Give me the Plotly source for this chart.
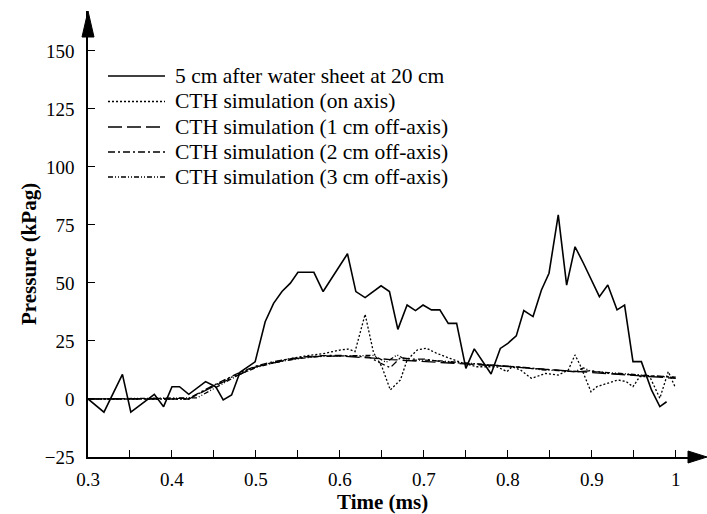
import plotly.graph_objects as go

# ---------------- data ----------------
t_meas = [0.300, 0.319, 0.341, 0.351, 0.379, 0.390, 0.400, 0.409, 0.420, 0.440, 0.452, 0.461, 0.471,
          0.481, 0.499, 0.511, 0.521, 0.531, 0.541, 0.550, 0.569, 0.580, 0.609, 0.619, 0.630, 0.649,
          0.659, 0.669, 0.680, 0.690, 0.699, 0.709, 0.719, 0.729, 0.739, 0.750, 0.760, 0.780, 0.791,
          0.800, 0.810, 0.819, 0.830, 0.840, 0.849, 0.860, 0.870, 0.880, 0.890, 0.899, 0.909, 0.919,
          0.930, 0.939, 0.949, 0.959, 0.971, 0.981, 0.989]
p_meas = [0, -5.7, 10.6, -5.7, 2.0, -3.3, 5.3, 5.3, 2.0, 7.5, 5.3, -0.4, 1.7,
          11.5, 16.0, 33.3, 41.2, 46.3, 49.9, 54.6, 54.6, 46.3, 62.6, 46.3, 43.7, 48.8,
          46.3, 30.0, 40.5, 38.1, 40.5, 38.4, 38.4, 32.6, 32.6, 13.2, 21.6, 10.8, 21.8,
          24.0, 27.2, 38.1, 35.5, 47.0, 54.2, 79.3, 49.1, 65.6, 58.5, 52.0, 44.1, 49.1,
          38.4, 40.5, 16.1, 16.1, 3.9, -3.3, -1.2]

t_on = [0.30, 0.42, 0.45, 0.48, 0.50, 0.52, 0.54, 0.56, 0.58, 0.60, 0.61, 0.618, 0.630, 0.640, 0.650,
        0.660, 0.672, 0.680, 0.692, 0.703, 0.715, 0.731, 0.747, 0.763, 0.787, 0.799, 0.805, 0.815,
        0.828, 0.845, 0.860, 0.872, 0.880, 0.886, 0.893, 0.899, 0.906, 0.918, 0.931, 0.941, 0.949,
        0.957, 0.969, 0.981, 0.991, 0.999]
p_on = [0, 0, 5.8, 11.0, 14.0, 15.8, 17.4, 18.6, 19.5, 21.1, 21.5, 20.4, 36.5, 20.0, 13.9,
        3.9, 8.2, 16.8, 21.1, 21.9, 19.7, 17.5, 15.4, 13.9, 13.9, 11.8, 13.9, 12.5,
        8.9, 11.0, 10.3, 12.5, 19.0, 14.6, 8.2, 3.1, 5.3, 6.8, 8.2, 7.5, 5.3,
        9.6, 9.6, 0.3, 11.8, 5.3]

t_1cm = [0.30, 0.42, 0.45, 0.48, 0.50, 0.52, 0.54, 0.56, 0.58, 0.60, 0.62, 0.64, 0.66, 0.68, 0.70,
         0.72, 0.74, 0.76, 0.78, 0.80, 0.82, 0.84, 0.86, 0.88, 0.90, 0.92, 0.94, 0.96, 0.98, 1.00]
p_1cm = [0, 0, 5.5, 10.5, 13.8, 15.5, 17.0, 18.0, 18.5, 18.5, 18.2, 17.6, 17.0, 16.6, 16.2,
         15.8, 15.3, 14.9, 14.4, 14.0, 13.4, 12.9, 12.3, 11.8, 11.3, 10.8, 10.3, 9.8, 9.3, 8.9]

t_2cm = [0.30, 0.42, 0.45, 0.48, 0.50, 0.52, 0.54, 0.56, 0.58, 0.60, 0.62, 0.635, 0.648, 0.66, 0.672,
         0.685, 0.70, 0.72, 0.74, 0.76, 0.78, 0.80, 0.82, 0.84, 0.86, 0.88, 0.90, 0.92, 0.94, 0.96,
         0.98, 1.00]
p_2cm = [0, 0.3, 6.0, 11.3, 14.2, 16.0, 17.3, 18.2, 18.7, 18.8, 18.4, 18.0, 15.5, 13.5, 17.8,
         17.2, 17.2, 16.2, 15.6, 15.0, 14.6, 14.1, 13.6, 13.0, 12.3, 11.7, 12.2, 11.0, 10.6, 10.2,
         9.6, 9.4]

t_3cm = [0.30, 0.43, 0.46, 0.48, 0.50, 0.52, 0.54, 0.56, 0.58, 0.60, 0.62, 0.64, 0.655, 0.668, 0.68,
         0.70, 0.72, 0.74, 0.76, 0.78, 0.80, 0.82, 0.84, 0.86, 0.88, 0.89, 0.90, 0.92, 0.94, 0.96,
         0.98, 1.00]
p_3cm = [0, 0.5, 6.5, 10.5, 13.5, 15.5, 16.8, 17.8, 18.4, 18.6, 18.5, 18.8, 15.8, 19.0, 16.6,
         16.8, 16.4, 15.9, 15.2, 14.6, 14.1, 13.5, 12.6, 12.2, 11.8, 13.4, 11.8, 11.4, 10.8, 10.3,
         9.8, 9.2]

series_names = ["5 cm after water sheet at 20 cm",
                "CTH simulation (on axis)",
                "CTH simulation (1 cm off-axis)",
                "CTH simulation (2 cm off-axis)",
                "CTH simulation (3 cm off-axis)"]

x_tickvals = [0.3, 0.4, 0.5, 0.6, 0.7, 0.8, 0.9, 1.0]
x_ticktext = ["0.3", "0.4", "0.5", "0.6", "0.7", "0.8", "0.9", "1"]
y_tickvals = [-25, 0, 25, 50, 75, 100, 125, 150]

# ---------------- styles ----------------
FONT = "Liberation Serif, Times New Roman, serif"
dashes = ["solid", "2px,2px", "14px,5px", "7px,3px,2px,3px", "5px,2px,1px,2px,1px,2px"]
widths = [1.6, 1.3, 1.3, 1.3, 1.3]

W, H = 707, 514
ML, MR, MT, MB = 88, 6, 11, 57
PW, PH = W - ML - MR, H - MT - MB

fig = go.Figure()
data = [(t_meas, p_meas), (t_on, p_on), (t_1cm, p_1cm), (t_2cm, p_2cm), (t_3cm, p_3cm)]
for (tx, py), name, d, w in zip(data, series_names, dashes, widths):
    fig.add_trace(go.Scatter(x=tx, y=py, mode="lines", name=name, showlegend=False,
                             line=dict(color="black", width=w, dash=d)))

def px2paper_x(px):
    return (px - ML) / PW

def px2paper_y(py):
    return (H - MB - py) / PH

shapes = []
annotations = []

# manual legend
leg_rows = [76, 101.5, 127, 152, 177]
for name, d, w, ry in zip(series_names, dashes, widths, leg_rows):
    yy = px2paper_y(ry)
    shapes.append(dict(type="line", xref="paper", yref="paper",
                       x0=px2paper_x(108), x1=px2paper_x(165), y0=yy, y1=yy,
                       line=dict(color="black", width=w, dash=d)))
    annotations.append(dict(text=name, xref="paper", yref="paper",
                            x=px2paper_x(173), y=yy, xanchor="left", yanchor="middle",
                            showarrow=False, font=dict(family=FONT, size=21.5, color="black")))

# axis arrowheads
ty, by, hw = px2paper_y(11), px2paper_y(37), 6 / PW
shapes.append(dict(type="path", xref="paper", yref="paper",
                   path=f"M0,{ty} L{hw},{by} L{-hw},{by} Z",
                   fillcolor="black", line=dict(color="black", width=1)))
tx_, bx, hh = px2paper_x(707), px2paper_x(688), 6 / PH
shapes.append(dict(type="path", xref="paper", yref="paper",
                   path=f"M{tx_},0 L{bx},{hh} L{bx},{-hh} Z",
                   fillcolor="black", line=dict(color="black", width=1)))

# axis titles
annotations.append(dict(text="<b>Time (ms)</b>", xref="paper", yref="paper",
                        x=px2paper_x(382), y=px2paper_y(502), xanchor="center", yanchor="middle",
                        showarrow=False, font=dict(family=FONT, size=21, color="black")))
annotations.append(dict(text="<b>Pressure (kPag)</b>", xref="paper", yref="paper",
                        x=px2paper_x(29), y=px2paper_y(254), xanchor="center", yanchor="middle",
                        textangle=-90, showarrow=False,
                        font=dict(family=FONT, size=21, color="black")))

fig.update_layout(
    width=W, height=H, margin=dict(l=ML, r=MR, t=MT, b=MB),
    paper_bgcolor="white", plot_bgcolor="white",
    font=dict(family=FONT, size=19, color="black"),
    shapes=shapes, annotations=annotations,
    xaxis=dict(range=[0.3, 1.03], tickvals=x_tickvals, ticktext=x_ticktext,
               ticks="inside", ticklen=7, tickwidth=1.2, tickcolor="black",
               minor=dict(dtick=0.05, tick0=0.3, ticks="inside", ticklen=7, tickwidth=1.2,
                          tickcolor="black"),
               showline=True, linecolor="black", linewidth=1.5,
               showgrid=False, zeroline=False, ticklabelstandoff=4,
               tickfont=dict(family=FONT, size=19, color="black")),
    yaxis=dict(range=[-25, 167.2], tickvals=y_tickvals,
               ticks="inside", ticklen=7, tickwidth=1.2, tickcolor="black",
               showline=True, linecolor="black", linewidth=1.5,
               showgrid=False, zeroline=False, ticklabelstandoff=8,
               tickfont=dict(family=FONT, size=19, color="black")),
)

fig.write_html("out.html")
